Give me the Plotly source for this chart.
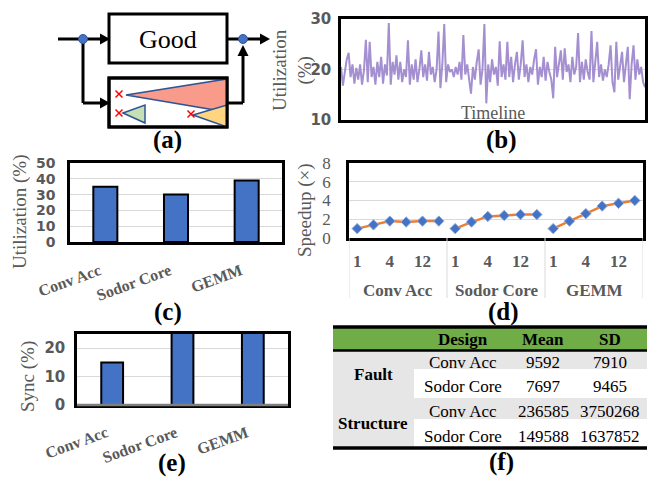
import plotly.graph_objects as go

W, H = 653, 481

# ---------------- data ----------------
util_series = [
    20.5, 16.8, 19.5, 22, 23.3, 18.5, 21, 17.2, 20.3, 18, 21, 17, 19.8, 25.9, 17.5, 25.5, 18.5, 20.5, 17, 21.5,
    18.5, 22.5, 17.2, 21, 18.8, 29.2, 17, 21.5, 19, 22.8, 18, 21.5, 17.5, 20, 18.5, 25.8, 17, 21, 18, 22,
    17.5, 20, 23.8, 18.5, 21, 17.8, 23.5, 19, 20.5, 17.5, 20, 27.5, 16.3, 21, 29, 17.5, 21, 19.5, 20, 18.5,
    20.5, 19, 21.5, 18, 26.8, 19, 21, 17.5, 15.2, 20.5, 18, 21.5, 24, 17, 20, 29, 13.3, 21, 17.5, 22,
    19, 20.5, 16.8, 25.6, 18.5, 21, 18, 25.5, 18.5, 22.5, 17.5, 21, 23.5, 18, 21, 25.8, 18.5, 21, 17.5, 20.5,
    19, 22, 24, 17, 20.5, 18.5, 22.5, 17.8, 21.5, 19.5, 18, 14.3, 24.5, 18.5, 21, 23.8, 18, 24.2, 19.5, 21,
    17.5, 22.5, 19, 20.5, 27.2, 17.5, 21.5, 18, 22, 19.5, 18, 27.6, 17.5, 21, 25.5, 18.5, 21, 17.8, 20, 18.5,
    21, 24.8, 17.5, 15.5, 25.5, 18, 21, 23.5, 17.5, 20.5, 24.5, 14.1, 21, 24.8, 18, 22, 19, 20.5, 17.5, 16.5,
]
designs = ["Conv Acc", "Sodor Core", "GEMM"]
util_values = [35, 30, 39]
threads = ["1", "2", "4", "8", "12", "16"]
speedup_conv = [1.0, 1.4, 1.8, 1.7, 1.8, 1.8]
speedup_sodor = [1.0, 1.7, 2.3, 2.4, 2.5, 2.5]
speedup_gemm = [1.0, 1.8, 2.6, 3.4, 3.7, 4.0]
speedups = [speedup_conv, speedup_sodor, speedup_gemm]
sync_values = [15, 30, 30]
table_header = ["Design", "Mean", "SD"]
table_groups = ["Fault", "Structure"]
table_designs = ["Conv Acc", "Sodor Core", "Conv Acc", "Sodor Core"]
table_mean = [9592, 7697, 236585, 149588]
table_sd = [7910, 9465, 3750268, 1637852]

# ---------------- helpers ----------------
def px(x):
    return x / W

def py(y):
    return 1 - y / H

def xdom(x0, x1):
    return [x0 / W, x1 / W]

def ydom(y0, y1):
    return [1 - y1 / H, 1 - y0 / H]

GRAY = "#595959"
GRID = "#D9D9D9"
BLUE = "#4472C4"
SERIF = "Liberation Serif"
SANS = "DejaVu Sans"

tick_bold = dict(family=SANS, size=15, color=GRAY, weight="bold")
tick_bold_c = dict(family=SANS, size=14, color=GRAY, weight="bold")
cat_font = dict(family=SERIF, size=16, color=GRAY, weight="bold")

fig = go.Figure()

# (b) utilization timeline
fig.add_trace(go.Scatter(x=list(range(len(util_series))), y=util_series, mode="lines",
                         line=dict(color="#A48FD1", width=2), xaxis="x", yaxis="y",
                         hoverinfo="skip"))
# (c) utilization bars
fig.add_trace(go.Bar(x=designs, y=util_values, width=0.34, marker=dict(color=BLUE, line=dict(color="black", width=2)),
                     xaxis="x2", yaxis="y2"))
# (d) speedup lines
for g, vals in enumerate(speedups):
    fig.add_trace(go.Scatter(x=[g * len(threads) + i for i in range(len(threads))], y=vals,
                             mode="lines+markers", line=dict(color="#ED7D31", width=2.5),
                             marker=dict(symbol="diamond", size=8, color=BLUE, line=dict(color="#8FAADC", width=1)),
                             xaxis="x3", yaxis="y3"))
# (e) sync bars
fig.add_trace(go.Bar(x=designs, y=sync_values, width=0.31, marker=dict(color=BLUE, line=dict(color="black", width=2)),
                     xaxis="x4", yaxis="y4"))

frame = dict(showline=True, mirror=True, linecolor="black", linewidth=2.5, zeroline=False, automargin=False)

nT = len(threads)
nD = len(designs)
fig.update_layout(
    width=W, height=H, margin=dict(l=0, r=0, t=0, b=0, autoexpand=False),
    paper_bgcolor="white", plot_bgcolor="white", showlegend=False,
    xaxis=dict(domain=xdom(341, 645), range=[0, len(util_series) - 1], showticklabels=False,
               showgrid=False, anchor="y", **frame),
    yaxis=dict(domain=ydom(19, 120), range=[10, 30], tickvals=[10, 20, 30], gridcolor=GRID,
               tickfont=tick_bold, anchor="x", ticklabelstandoff=4, **frame),
    xaxis2=dict(domain=xdom(70, 282), range=[-0.5, nD - 0.5], showgrid=False, showticklabels=False,
                anchor="y2", **frame),
    yaxis2=dict(domain=ydom(163, 242), range=[0, 50], dtick=10, gridcolor=GRID,
                tickfont=tick_bold_c, anchor="x2", ticklabelstandoff=9, **frame),
    xaxis3=dict(domain=xdom(349, 643), range=[-0.5, 3 * nT - 0.5],
                tickvals=[g * nT + i for g in range(3) for i in range(0, nT, 2)],
                ticktext=[threads[i] for g in range(3) for i in range(0, nT, 2)],
                tickfont=dict(family=SERIF, size=17, color=GRAY, weight="bold"),
                ticklabelstandoff=6, showgrid=False, anchor="y3", **frame),
    yaxis3=dict(domain=ydom(163, 238), range=[0, 8], dtick=2, gridcolor=GRID,
                tickfont=dict(family=SERIF, size=17, color=GRAY), ticklabelstandoff=12,
                anchor="x3", **frame),
    xaxis4=dict(domain=xdom(77, 288), range=[-0.5, nD - 0.5], showgrid=False, showticklabels=False,
                anchor="y4", **frame),
    yaxis4=dict(domain=ydom(334, 405), range=[0, 25], tickvals=[0, 10, 20], gridcolor=GRID,
                tickfont=tick_bold, anchor="x4", ticklabelstandoff=6, **frame),
)

shapes = []
ann = []

def line(x0, y0, x1, y1, color="black", width=3, xref="paper", yref="paper"):
    shapes.append(dict(type="line", xref=xref, yref=yref, x0=x0, y0=y0, x1=x1, y1=y1,
                       line=dict(color=color, width=width)))

def pline(x0, y0, x1, y1, color="black", width=3):
    line(px(x0), py(y0), px(x1), py(y1), color, width)

def poly(pts, fill, color="black", width=0):
    path = "M " + " L ".join(f"{px(x)},{py(y)}" for x, y in pts) + " Z"
    shapes.append(dict(type="path", xref="paper", yref="paper", path=path, fillcolor=fill,
                       line=dict(color=color, width=width)))

def prect(x0, y0, x1, y1, fill=None, color="black", width=0, layer="above"):
    shapes.append(dict(type="rect", xref="paper", yref="paper", x0=px(x0), y0=py(y1), x1=px(x1), y1=py(y0),
                       fillcolor=fill if fill else "rgba(0,0,0,0)", line=dict(color=color, width=width),
                       layer=layer))

def dot(cx, cy, r=4.5):
    shapes.append(dict(type="circle", xref="paper", yref="paper", x0=px(cx - r), y0=py(cy + r),
                       x1=px(cx + r), y1=py(cy - r), fillcolor=BLUE, line=dict(color="#2F5597", width=1)))

def text(x, y, s, size=17, color="black", bold=False, family=SERIF, angle=0, xanchor="center"):
    ann.append(dict(x=px(x), y=py(y), xref="paper", yref="paper", text=s, showarrow=False,
                    font=dict(family=family, size=size, color=color, weight="bold" if bold else "normal"),
                    textangle=angle, xanchor=xanchor, yanchor="middle"))

# rotated category labels for (c) and (e)
for xr, ytop in [("x2", 259), ("x4", 421)]:
    for name in designs:
        ann.append(dict(x=name, xref=xr, y=py(ytop), yref="paper", text=name, showarrow=False,
                        textangle=-20, xanchor="right", yanchor="top", font=cat_font))

# ---------------- (a) diagram ----------------
pline(58, 39, 102, 39)
poly([(100, 33.5), (100, 44.5), (110, 39)], "black")
prect(109, 14, 227, 63, color="black", width=3)
text(168, 39, "Good", size=26)
pline(227, 39, 262, 39)
poly([(260, 33.5), (260, 44.5), (270, 39)], "black")
pline(83, 39, 83, 103)
pline(83, 103, 102, 103)
poly([(100, 97.5), (100, 108.5), (110, 103)], "black")
prect(109, 78, 227, 127, color="black", width=3)
pline(227, 103, 243, 103)
pline(243, 103, 243, 54)
poly([(237.5, 56), (248.5, 56), (243, 45)], "black")
dot(83, 39)
dot(243, 39)
poly([(126, 95), (227, 79), (227, 112)], "#F99B8B", "#2F5597", 1.5)
poly([(193, 115), (227, 105), (227, 127)], "#FFD580", "#2F5597", 1.5)
poly([(123, 113), (145, 105), (145, 123)], "#C5E0B4", "#2F5597", 1.5)
for cx, cy in [(119, 94), (119, 113), (191, 114)]:
    pline(cx - 3.5, cy - 3.5, cx + 3.5, cy + 3.5, "red", 1.5)
    pline(cx - 3.5, cy + 3.5, cx + 3.5, cy - 3.5, "red", 1.5)
# redraw lower box frame on top
prect(109, 78, 227, 127, color="black", width=3)

# ---------------- axis titles & panel text ----------------
text(292, 70, "Utilization<br>(%)", size=19, color=GRAY, angle=-90)
text(493, 113, "Timeline", size=18, color=GRAY)
text(20, 212, "Utilization (%)", size=19, color=GRAY, angle=-90)
text(305, 210, "Speedup (×)", size=19, color=GRAY, angle=-90)
text(28, 377, "Sync (%)", size=19, color=GRAY, angle=-90)

# (d) group labels and dividers
for g, name in enumerate(designs):
    ann.append(dict(x=g * nT + (nT - 1) / 2, y=py(290), xref="x3", yref="paper", text=name,
                    showarrow=False, font=dict(family=SERIF, size=17, color=GRAY, weight="bold")))
for g in range(4):
    line(g * nT - 0.5, py(238), g * nT - 0.5, py(298), color=GRID, width=1, xref="x3")

# (e) gray base line
line(0, 0, 1, 0, color="#7F7F7F", width=2.5, xref="x4 domain", yref="y4 domain")

# ---------------- (f) table ----------------
row_edges = [350, 369, 398, 419, 447]
row_centers = [362, 386, 411, 436]
col_centers = [463, 543, 610]
prect(333, 327, 647, 350, fill="#70AD47")
prect(333, 350, 414, 447, fill="#E7E6E6")
for r in range(0, 4, 2):
    prect(414, row_edges[r], 647, row_edges[r + 1], fill="#E7E6E6")
pline(333, 327, 647, 327, width=3.5)
pline(333, 350.5, 647, 350.5, width=2.5)
pline(333, 448, 647, 448, width=3.5)
for c, h in enumerate(table_header):
    text(col_centers[c], 339, h, size=17, bold=True)
for gi, gname in enumerate(table_groups):
    text(373, (row_centers[2 * gi] + row_centers[2 * gi + 1]) / 2, gname, size=17, bold=True)
for r in range(4):
    text(col_centers[0], row_centers[r], table_designs[r], size=17)
    text(col_centers[1], row_centers[r], str(table_mean[r]), size=17)
    text(col_centers[2], row_centers[r], str(table_sd[r]), size=17)

# ---------------- panel letters ----------------
for lab, x, y in [("(a)", 167, 140), ("(b)", 502, 140), ("(c)", 168, 312),
                  ("(d)", 503, 312), ("(e)", 172, 463), ("(f)", 502, 462)]:
    text(x, y, lab, size=25, bold=True)

fig.update_layout(shapes=shapes, annotations=ann)
fig.write_html("out.html", config={"displayModeBar": False},
               post_script="document.body.style.margin='0';")
